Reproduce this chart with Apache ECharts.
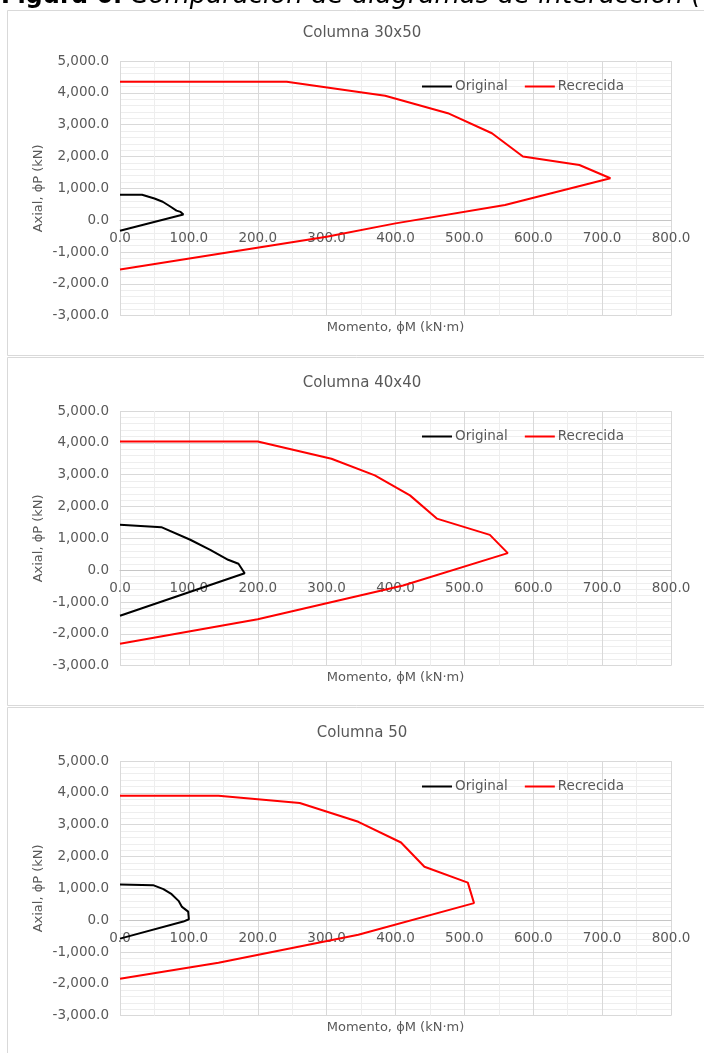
<!DOCTYPE html>
<html>
<head>
<meta charset="utf-8">
<script src="https://cdn.jsdelivr.net/npm/echarts@6/dist/echarts.min.js"></script>
<style>
  html, body { margin: 0; padding: 0; background: #ffffff; }
  #chart { width: 704px; height: 1053px; }
</style>
</head>
<body>
<div id="chart"></div>
<script>
// Interaction diagrams: moment φM (kN·m) vs axial φP (kN)
const panelTitles = ['Columna 30x50', 'Columna 40x40', 'Columna 50'];
const seriesNames = ['Original', 'Recrecida'];

// Columna 30x50
const orig30x50M = [0, 32, 50, 62, 73, 82, 88, 92, 0];
const orig30x50P = [800, 800, 680, 580, 430, 300, 260, 180, -330];
const rec30x50M = [0, 242, 385, 476, 540, 585, 667, 712, 559, 400, 300, 0];
const rec30x50P = [4350, 4350, 3910, 3360, 2730, 2000, 1734, 1316, 477, -100, -520, -1550];

// Columna 40x40
const orig40x40M = [0, 60, 102, 131, 157, 172, 181, 0];
const orig40x40P = [1430, 1350, 956, 641, 327, 201, -94, -1430];
const rec40x40M = [0, 200, 307, 370, 421, 460, 537, 563, 411, 200, 0];
const rec40x40P = [4040, 4040, 3500, 2980, 2350, 1620, 1110, 535, -480, -1540, -2310];

// Columna 50
const orig50M = [0, 48, 63, 75, 85, 90, 99, 100, 92, 0];
const orig50P = [1120, 1100, 975, 817, 607, 418, 270, 30, -44, -580];
const rec50M = [0, 143, 261, 346, 408, 442, 505, 514, 346, 143, 0];
const rec50P = [3910, 3910, 3680, 3090, 2440, 1680, 1180, 535, -460, -1340, -1840];

// Axis ranges / tick steps
const momentRange = [0, 800];
const momentStep = 100;
const axialRange = [-3000, 5000];
const axialStep = 1000;

const xName = 'Momento, ϕM (kN·m)';
const yName = 'Axial, ϕP (kN)';
const caption = ['Figura 6.', 'Comparación de diagramas de interacción ('];

const panels = [
  { orig: [orig30x50M, orig30x50P], rec: [rec30x50M, rec30x50P] },
  { orig: [orig40x40M, orig40x40P], rec: [rec40x40M, rec40x40P] },
  { orig: [orig50M, orig50P], rec: [rec50M, rec50P] }
];

const zip = (xs, ys) => xs.map((x, i) => [x, ys[i]]);

const FONT = 'DejaVu Sans';
const TXT = '#595959';
const plotLeft = 120, plotWidth = 551, plotHeight = 254.7;
const plotTops = [61, 411, 761];
const frameTops = [10.5, 357.5, 707.5];
const frameHeights = [345, 348, 360];

// the moment axis (with its labels) sits on the P = 0 line
const zeroOffset = -plotHeight * (0 - axialRange[0]) / (axialRange[1] - axialRange[0]);

const grids = [], xAxes = [], yAxes = [], series = [], titles = [], legends = [], graphics = [];

panels.forEach((p, i) => {
  const top = plotTops[i];
  grids.push({ left: plotLeft, top: top, width: plotWidth, height: plotHeight, containLabel: false });
  xAxes.push({
    type: 'value', gridIndex: i, position: 'bottom', offset: zeroOffset,
    min: momentRange[0], max: momentRange[1], interval: momentStep,
    axisLine: { show: true, onZero: false, lineStyle: { color: '#c6c6c6', width: 1 } },
    axisTick: { show: false },
    axisLabel: { color: TXT, fontFamily: FONT, fontSize: 13.5, margin: 11,
      formatter: v => v.toFixed(1) },
    splitLine: { show: true, lineStyle: { color: '#d9d9d9', width: 1 } },
    minorTick: { show: false, splitNumber: 2 },
    minorSplitLine: { show: true, lineStyle: { color: '#eeeeee', width: 1 } }
  });
  yAxes.push({
    type: 'value', gridIndex: i,
    min: axialRange[0], max: axialRange[1], interval: axialStep,
    axisLine: { show: false },
    axisTick: { show: false },
    axisLabel: { color: TXT, fontFamily: FONT, fontSize: 13.5, margin: 11,
      formatter: v => v.toLocaleString('en-US', { minimumFractionDigits: 1, maximumFractionDigits: 1 }) },
    splitLine: { show: true, lineStyle: { color: '#d9d9d9', width: 1 } },
    minorTick: { show: false, splitNumber: 5 },
    minorSplitLine: { show: true, lineStyle: { color: '#eeeeee', width: 1 } }
  });
  series.push({
    name: seriesNames[0], type: 'line', xAxisIndex: i, yAxisIndex: i,
    data: zip(p.orig[0], p.orig[1]), symbol: 'none', smooth: false,
    lineStyle: { color: '#000000', width: 2 }, itemStyle: { color: '#000000' },
    animation: false, z: 3
  });
  series.push({
    name: seriesNames[1], type: 'line', xAxisIndex: i, yAxisIndex: i,
    data: zip(p.rec[0], p.rec[1]), symbol: 'none', smooth: false,
    lineStyle: { color: '#ff0000', width: 2 }, itemStyle: { color: '#ff0000' },
    animation: false, z: 3
  });
  titles.push({
    text: panelTitles[i], left: 357, top: top - 40, textAlign: 'center',
    textStyle: { color: TXT, fontFamily: FONT, fontSize: 15, fontWeight: 'normal' }
  });
  legends.push({
    data: seriesNames, left: 417, top: top + 13.5,
    icon: 'rect', itemWidth: 30, itemHeight: 2, itemGap: 17,
    textStyle: { color: TXT, fontFamily: FONT, fontSize: 13.5, padding: [0, 0, 0, -2] }
  });
  graphics.push({
    type: 'rect', silent: true, z: -10,
    shape: { x: 7.5, y: frameTops[i], width: 730, height: frameHeights[i] },
    style: { fill: 'none', stroke: '#d9d9d9', lineWidth: 1 }
  });
  graphics.push({
    type: 'text', silent: true,
    style: { text: xName, x: plotLeft + plotWidth / 2, y: top + 267, align: 'center', verticalAlign: 'middle',
      fill: TXT, font: '13px "' + FONT + '"' }
  });
  graphics.push({
    type: 'text', silent: true, rotation: Math.PI / 2, x: 38.5, y: top + plotHeight / 2,
    style: { text: yName, x: 0, y: 0, align: 'center', verticalAlign: 'middle',
      fill: TXT, font: '13px "' + FONT + '"' }
  });
});

// Figure caption, partly above the page edge
graphics.push({
  type: 'text', silent: true,
  style: {
    text: '{b|' + caption[0] + '}{i| ' + caption[1] + '}',
    x: 1, y: -4, align: 'left', verticalAlign: 'middle',
    rich: {
      b: { fontFamily: FONT, fontSize: 24, fontWeight: 'bold', fill: '#000000', fontStyle: 'normal', verticalAlign: 'bottom' },
      i: { fontFamily: FONT, fontSize: 26, fontStyle: 'italic', fill: '#000000', fontWeight: 'normal', verticalAlign: 'bottom' }
    }
  }
});

const chart = echarts.init(document.getElementById('chart'), null, { renderer: 'canvas' });
chart.setOption({
  backgroundColor: '#ffffff',
  animation: false,
  title: titles,
  legend: legends,
  grid: grids,
  xAxis: xAxes,
  yAxis: yAxes,
  series: series,
  graphic: graphics
});
</script>
</body>
</html>
